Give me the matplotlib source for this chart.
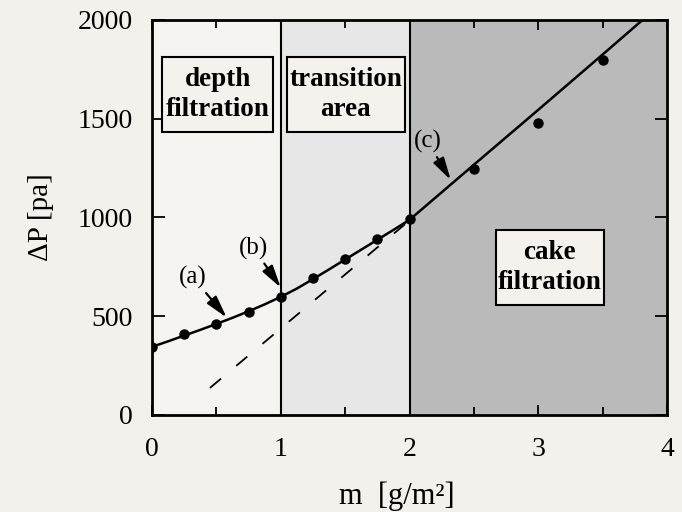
import numpy as np
import matplotlib
matplotlib.use('Agg')
import matplotlib.pyplot as plt
from matplotlib.patches import Rectangle
from matplotlib.ticker import MultipleLocator

plt.rcParams['font.family'] = ['Liberation Serif', 'DejaVu Serif']

# measured points
m_pts = [0, 0.25, 0.5, 0.75, 1.0, 1.25, 1.5, 1.75, 2.0, 2.5, 3.0, 3.5]
dp_pts = [344, 408, 459, 521, 596, 692, 788, 890, 991, 1244, 1477, 1797]

# fitted curve
m_fit = [0, 0.125, 0.25, 0.375, 0.5, 0.625, 0.75, 0.875, 1.0, 1.125, 1.25,
         1.375, 1.5, 1.625, 1.75, 1.875, 2.0, 2.5, 3.0, 3.5, 3.81]
dp_fit = [345, 373, 402, 431, 461, 492, 525, 560, 598, 640, 688,
          737, 787, 837, 887, 937, 988, 1267, 1545, 1825, 2000]

# extrapolated cake line (dashed)
m_cake = [0.45, 2.0]
dp_cake = [137, 985]

# regime limits
depth_end = 1.0
trans_end = 2.0

bg = '#f4f1ec'
fig = plt.figure(figsize=(6.82, 5.12), dpi=100, facecolor=bg)
ax = fig.add_axes([0.2229, 0.1895, 0.7551, 0.7715])
ax.set_xlim(0, 4)
ax.set_ylim(0, 2000)
ax.set_facecolor(bg)

ax.axvspan(0, depth_end, color='#f6f4f0', zorder=0)
ax.axvspan(depth_end, trans_end, color='#e7e7e7', zorder=0)
ax.axvspan(trans_end, 4, color='#bababa', zorder=0)
ax.axvline(depth_end, color='k', lw=1.5, zorder=1)
ax.axvline(trans_end, color='k', lw=1.5, zorder=1)

# labelled boxes
boxes = [
    (0.078, 1433, 0.862, 380, 'depth\nfiltration'),
    (1.046, 1433, 0.919, 380, 'transition\narea'),
    (2.67, 557, 0.84, 380, 'cake\nfiltration'),
]
for x0, y0, w, h, txt in boxes:
    ax.add_patch(Rectangle((x0, y0), w, h, facecolor='#f5f2ee',
                           edgecolor='k', lw=1.5, zorder=2))
    ax.text(x0 + w / 2, y0 + h / 2, txt, ha='center', va='center',
            fontsize=19.5, fontweight='bold', linespacing=1.22, zorder=3)

line, = ax.plot(m_cake, dp_cake, color='k', lw=1.3, zorder=4)
line.set_dashes((8, 11))
ax.plot(m_fit, dp_fit, color='k', lw=1.8, zorder=4)
ax.plot(m_pts, dp_pts, 'ko', ms=6.5, zorder=5)

arrow = dict(arrowstyle='-|>,head_length=0.75,head_width=0.2', lw=1.6,
             color='k', shrinkA=1, shrinkB=0)
ax.annotate('(a)', xy=(0.58, 493), xytext=(0.32, 695), fontsize=18,
            ha='center', va='center', arrowprops=arrow, zorder=6)
ax.annotate('(b)', xy=(1.0, 645), xytext=(0.79, 845), fontsize=18,
            ha='center', va='center', arrowprops=arrow, zorder=6)
ax.annotate('(c)', xy=(2.32, 1190), xytext=(2.14, 1384), fontsize=18,
            ha='center', va='center', arrowprops=arrow, zorder=6)

ax.xaxis.set_major_locator(MultipleLocator(1))
ax.xaxis.set_minor_locator(MultipleLocator(0.5))
ax.yaxis.set_major_locator(MultipleLocator(500))
ax.tick_params(which='both', direction='in', top=True, right=True, width=1.3)
ax.tick_params(axis='x', which='major', length=7, labelsize=20, pad=16)
ax.tick_params(axis='x', which='minor', length=6)
ax.tick_params(axis='y', length=9, labelsize=20, pad=14)
for s in ax.spines.values():
    s.set_linewidth(2)
    s.set_zorder(7)

ax.set_xlabel('m  [g/m²]', fontsize=22, labelpad=14, x=0.475)
ax.set_ylabel('ΔP [pa]', fontsize=21, labelpad=17)

fig.savefig('out.png', dpi=100, facecolor=bg)
